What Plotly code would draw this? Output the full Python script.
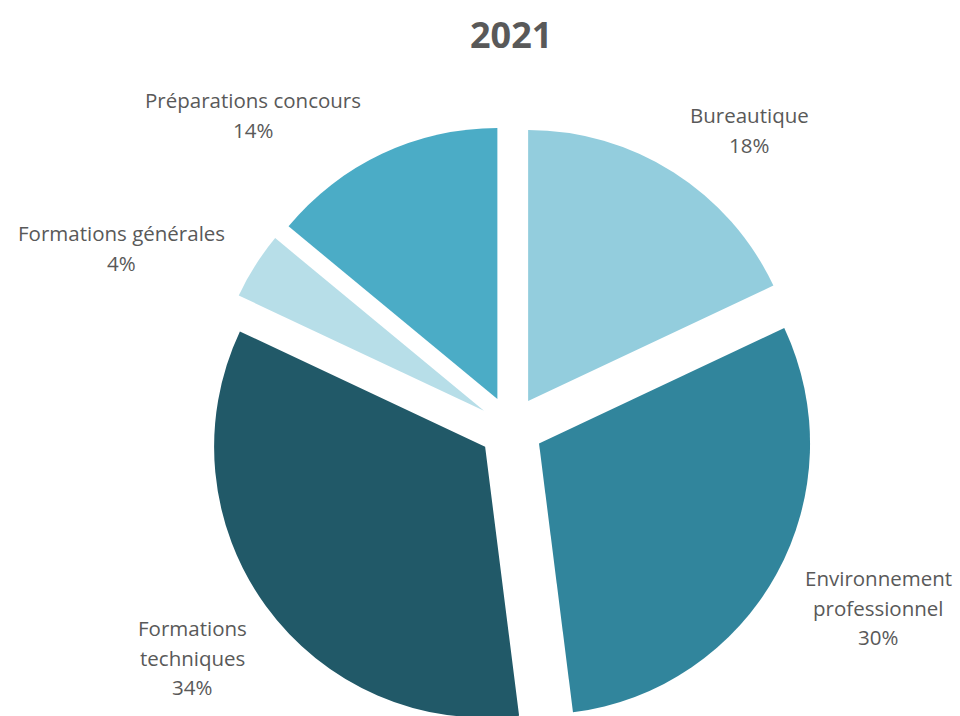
import plotly.graph_objects as go

# Training hours by category, 2021 (share in %)
categories = [
    "Bureautique",
    "Environnement professionnel",
    "Formations techniques",
    "Formations générales",
    "Préparations concours",
]
label_lines = [
    ["Bureautique"],
    ["Environnement", "professionnel"],
    ["Formations", "techniques"],
    ["Formations générales"],
    ["Préparations concours"],
]
shares = [18, 30, 34, 4, 14]
colors = ["#93CDDD", "#31859C", "#215968", "#B7DEE8", "#4BACC6"]

# Label positions in pixels: centre x and y of the first text line
label_px = [(749, 115), (878, 578), (192, 628), (121, 233), (253, 100)]
LINE_STEP = 29.5
W, H = 960, 731
M_L, M_R, M_T, M_B = 62, 0, 125, 0
PW, PH = W - M_L - M_R, H - M_T - M_B


def to_paper(px, py):
    return (px - M_L) / PW, 1 - (py - M_T) / PH


fig = go.Figure(
    go.Pie(
        labels=categories,
        values=shares,
        sort=False,
        direction="clockwise",
        rotation=0,
        pull=[0.118] * len(shares),
        marker=dict(colors=colors, line=dict(width=0)),
        textinfo="none",
        hovertemplate="%{label}: %{value}%<extra></extra>",
        showlegend=False,
    )
)

label_font = dict(family="Open Sans", size=20.5, color="#595959")
for lines, val, (px, py) in zip(label_lines, shares, label_px):
    for i, line in enumerate(lines + [f"{val}%"]):
        x, y = to_paper(px, py + i * LINE_STEP)
        fig.add_annotation(
            x=x, y=y, xref="paper", yref="paper",
            text=line, showarrow=False,
            xanchor="center", yanchor="middle",
            font=label_font,
        )

tx, ty = to_paper(511, 34)
fig.add_annotation(
    x=tx, y=ty, xref="paper", yref="paper",
    text="<b>2021</b>", showarrow=False,
    xanchor="center", yanchor="middle",
    font=dict(family="Open Sans", size=36, color="#595959"),
)

fig.update_layout(
    width=W,
    height=H,
    margin=dict(l=M_L, r=M_R, t=M_T, b=M_B),
    paper_bgcolor="white",
    plot_bgcolor="white",
)

fig.write_html("out.html")
